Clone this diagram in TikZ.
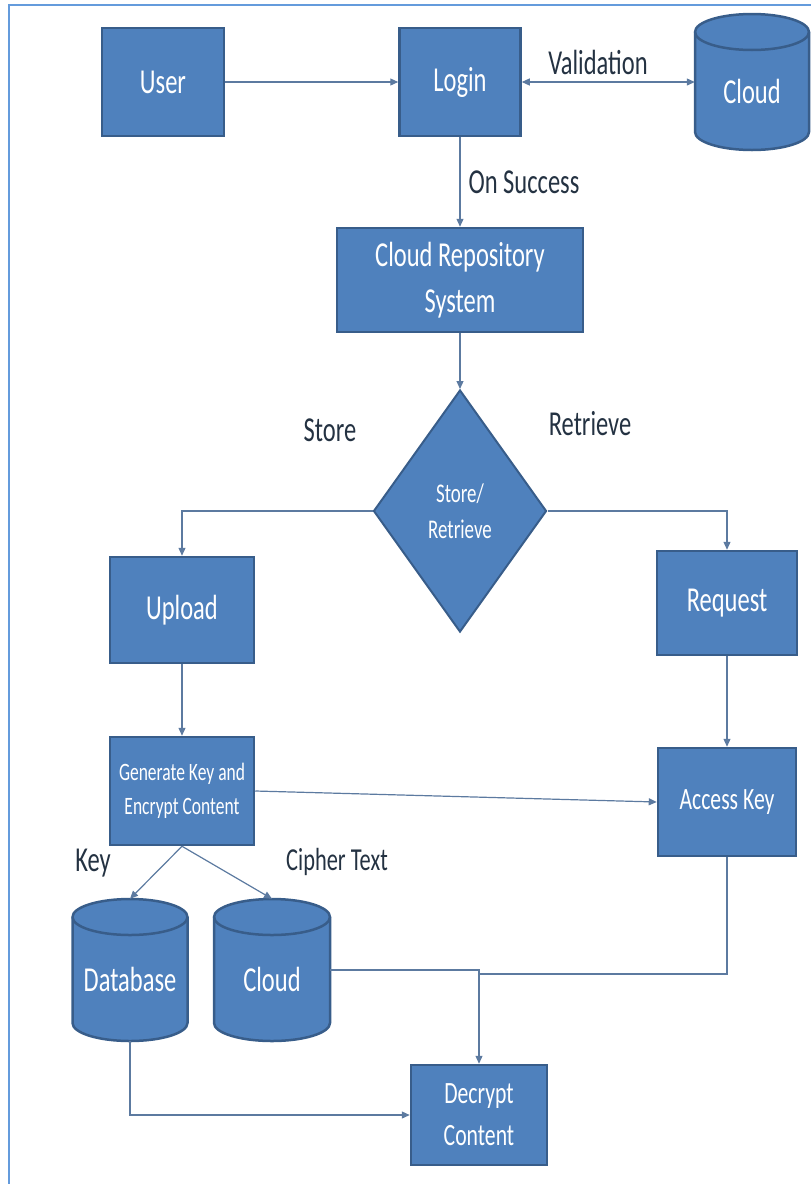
\documentclass[tikz,border=0pt]{standalone}
\usepackage{fontspec}
\setmainfont{Carlito}[FakeStretch=0.70]
\usetikzlibrary{arrows.meta,shapes.geometric}

\definecolor{boxfill}{RGB}{79,129,189}
\definecolor{boxedge}{RGB}{56,93,138}
\definecolor{wire}{RGB}{92,122,160}
\definecolor{lbl}{RGB}{36,50,66}
\definecolor{frame}{RGB}{100,155,220}

\newcommand\setfs[2]{\fontsize{#1}{#2}\selectfont}

% cylinder drawn by hand, with a named node on top of it for the connectors
\newcommand\cylnode[6]{%
  \pgfmathsetmacro\cxl{#2-#4/2}\pgfmathsetmacro\cxr{#2+#4/2}%
  \pgfmathsetmacro\cyt{#3-#5/2}\pgfmathsetmacro\cyb{#3+#5/2}%
  \pgfmathsetmacro\rx{#4/2}\def\ry{18}%
  \path[draw=boxedge, fill=boxfill, line width=2.5pt]
    (\cxl,{\cyt+\ry}) -- (\cxl,{\cyb-\ry})
    arc[start angle=180, end angle=360, x radius=\rx pt, y radius=\ry pt]
    -- (\cxr,{\cyt+\ry})
    arc[start angle=0, end angle=180, x radius=\rx pt, y radius=\ry pt]
    -- cycle;
  \draw[boxedge, line width=2.5pt] (\cxl,{\cyt+\ry})
    arc[start angle=180, end angle=360, x radius=\rx pt, y radius=\ry pt];
  \node[inner sep=0pt, minimum width=#4, minimum height=#5, text=white,
        text height=42pt, text depth=0pt,
        font=\setfs{35}{42}] (#1) at (#2,#3) {#6};%
}

\begin{document}
\begin{tikzpicture}[x=1pt, y=-1pt,
  box/.style={draw=boxedge, fill=boxfill, line width=2.5pt, text=white,
              align=center, inner sep=0pt, font=\setfs{35}{46}},
  decision/.style={diamond, aspect=0.715, draw=boxedge, fill=boxfill,
              line width=2pt, text=white, align=center, inner sep=0pt,
              minimum width=173, minimum height=242, font=\setfs{27}{36}},
  lbl/.style={text=lbl, inner sep=0pt, font=\setfs{35}{42}},
  tip/.style={-{Triangle[length=8pt,width=7pt]}},
  link/.style={draw=wire, line width=1.2pt},
  arr/.style={link, tip},
]
\useasboundingbox (0,0) rectangle (811,1184);
\draw[frame, line width=2pt] (9,1184) -- (9,5) -- (811,5);

% top row
\node[box, minimum width=122, minimum height=108] (user) at (163,82) {User};
\node[box, minimum width=121, minimum height=108] (login) at (460,82) {Login};
\cylnode{cloudA}{752}{82}{114}{136}{Cloud}
\node[lbl] (lvalid) at (598,62) {Validation};
\node[lbl] (lsucc) at (524,182) {On Success};

% repository and decision
\node[box, minimum width=246, minimum height=104] (repo) at (460,280) {Cloud Repository\\System};
\node[decision] (sr) at (460,511) {Store/\\Retrieve};
\node[lbl] (lstore) at (330,430) {Store};
\node[lbl] (lretr) at (590,424) {Retrieve};

% store branch and retrieve branch
\node[box, minimum width=144, minimum height=106] (upload) at (182,610) {Upload};
\node[box, minimum width=140, minimum height=104] (request) at (727,603) {Request};
\node[box, minimum width=144, minimum height=108, font=\setfs{25}{34}] (gen) at (182,791) {Generate Key and\\Encrypt Content};
\node[box, minimum width=138, minimum height=108, font=\setfs{31}{40}] (access) at (727,802) {Access Key};
\node[lbl] (lkey) at (93,863) {Key};
\node[lbl, font=\setfs{32}{40}] (lciph) at (337,862) {Cipher Text};

% storage
\cylnode{db}{130}{970}{115}{142}{Database}
\cylnode{cloudB}{272}{970}{116}{142}{Cloud}

% result
\node[box, minimum width=136, minimum height=100, font=\setfs{31}{42}] (decrypt) at (479,1115) {Decrypt\\Content};
\coordinate (join) at (479,974);

% connectors
\draw[arr] (user) -- (login);
\draw[link, {Triangle[length=8pt,width=7pt]}-{Triangle[length=8pt,width=7pt]}] (login) -- (cloudA);
\draw[arr] (login) -- (repo);
\draw[arr] (repo) -- (sr);
\draw[arr] (sr.west) -| (upload.north);
\draw[arr] (sr.east) -| (request.north);
\draw[arr] (upload) -- (gen);
\draw[arr] (request) -- (access);
\draw[arr] (gen.east) -- (access.west);
\draw[arr] (gen.south) -- (db.north);
\draw[arr] (gen.south) -- (cloudB.north);
\draw[arr] (cloudB.east) -| (decrypt.north);
\draw[link] (access.south) |- (join);
\draw[arr] (db.south) |- (decrypt.west);
\end{tikzpicture}
\end{document}
